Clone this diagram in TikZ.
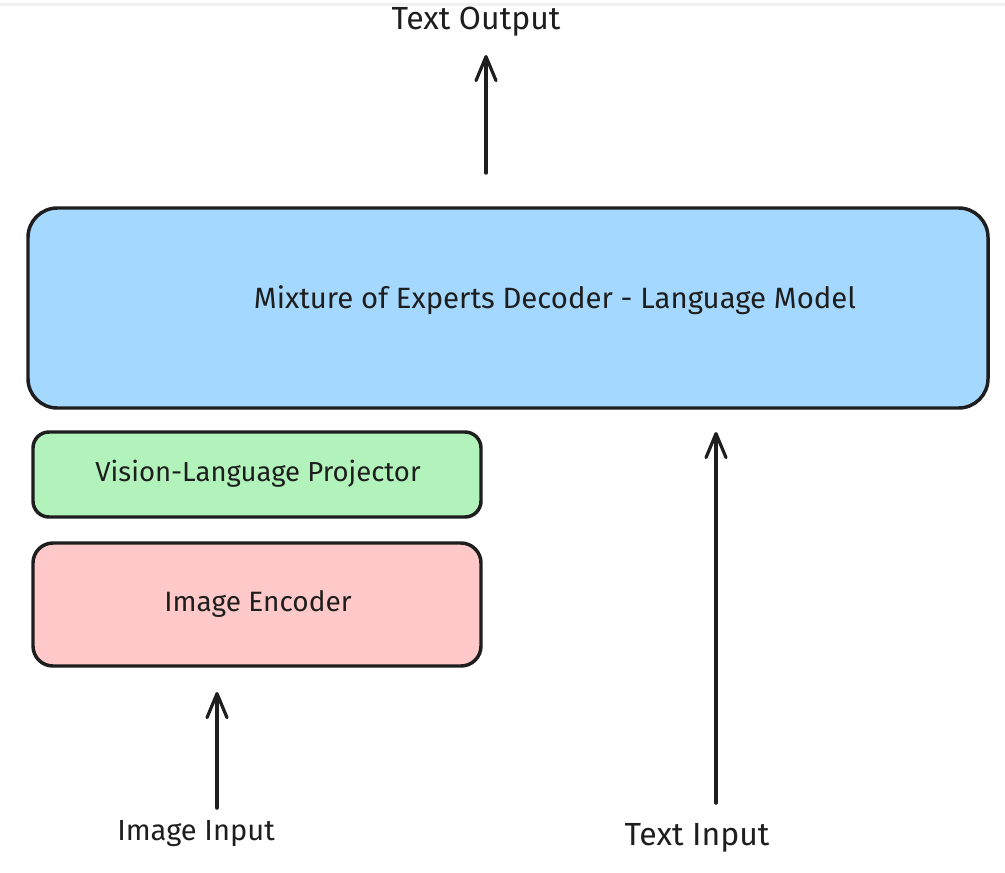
\documentclass[tikz,border=0pt]{standalone}
\usepackage{fontspec}
\setmainfont{Fira Sans}
\usetikzlibrary{arrows.meta}
\definecolor{strokec}{HTML}{1E1E1E}
\definecolor{bluef}{HTML}{A5D8FF}
\definecolor{greenf}{HTML}{B2F2BB}
\definecolor{pinkf}{HTML}{FFC9C9}
\tikzset{
  blk/.style={draw=strokec, line width=2.6pt, rounded corners=#1, inner sep=0pt},
  lbl/.style={text=strokec, font=\fontsize{#1}{#1}\selectfont, inner sep=0pt},
  arr/.style={draw=strokec, line width=2.6pt, line cap=round, -{Straight Barb[length=18pt,width=15pt,line width=2.4pt,round]}},
}
\begin{document}
\begin{tikzpicture}[x=0.75pt,y=-0.75pt]
\useasboundingbox (0,0) rectangle (1005,872);
\fill[white] (0,0) rectangle (1005,872);
\fill[black!6] (0,3) rectangle (1005,6);
% boxes
\node[blk=22pt, fill=bluef, minimum width=720pt, minimum height=150pt] (moe) at (508,308) {};
\node[lbl=22] (moetext) at (555,300) {Mixture of Experts Decoder - Language Model};
\node[blk=12pt, fill=greenf, minimum width=336pt, minimum height=63.75pt] (proj) at (257,474.5) {};
\node[lbl=20.6] (projtext) at (258,474) {Vision-Language Projector};
\node[blk=15pt, fill=pinkf, minimum width=336pt, minimum height=92.25pt] (enc) at (257,604.5) {};
\node[lbl=21] (enctext) at (258,604) {Image Encoder};
% labels
\node[lbl=24] (tout) at (476,22) {Text Output};
\node[lbl=21.8] (imgin) at (196,834) {Image Input};
\node[lbl=24] (tin) at (697,838) {Text Input};
% arrow coordinates
\coordinate (o1) at (486,173);
\coordinate (o2) at (486,55);
\coordinate (i1) at (217,808);
\coordinate (i2) at (217,692);
\coordinate (t1) at (716,803);
\coordinate (t2) at (716,432);
\draw[arr] (o1) -- (o2);
\draw[arr] (i1) -- (i2);
\draw[arr] (t1) -- (t2);
\end{tikzpicture}
\end{document}
